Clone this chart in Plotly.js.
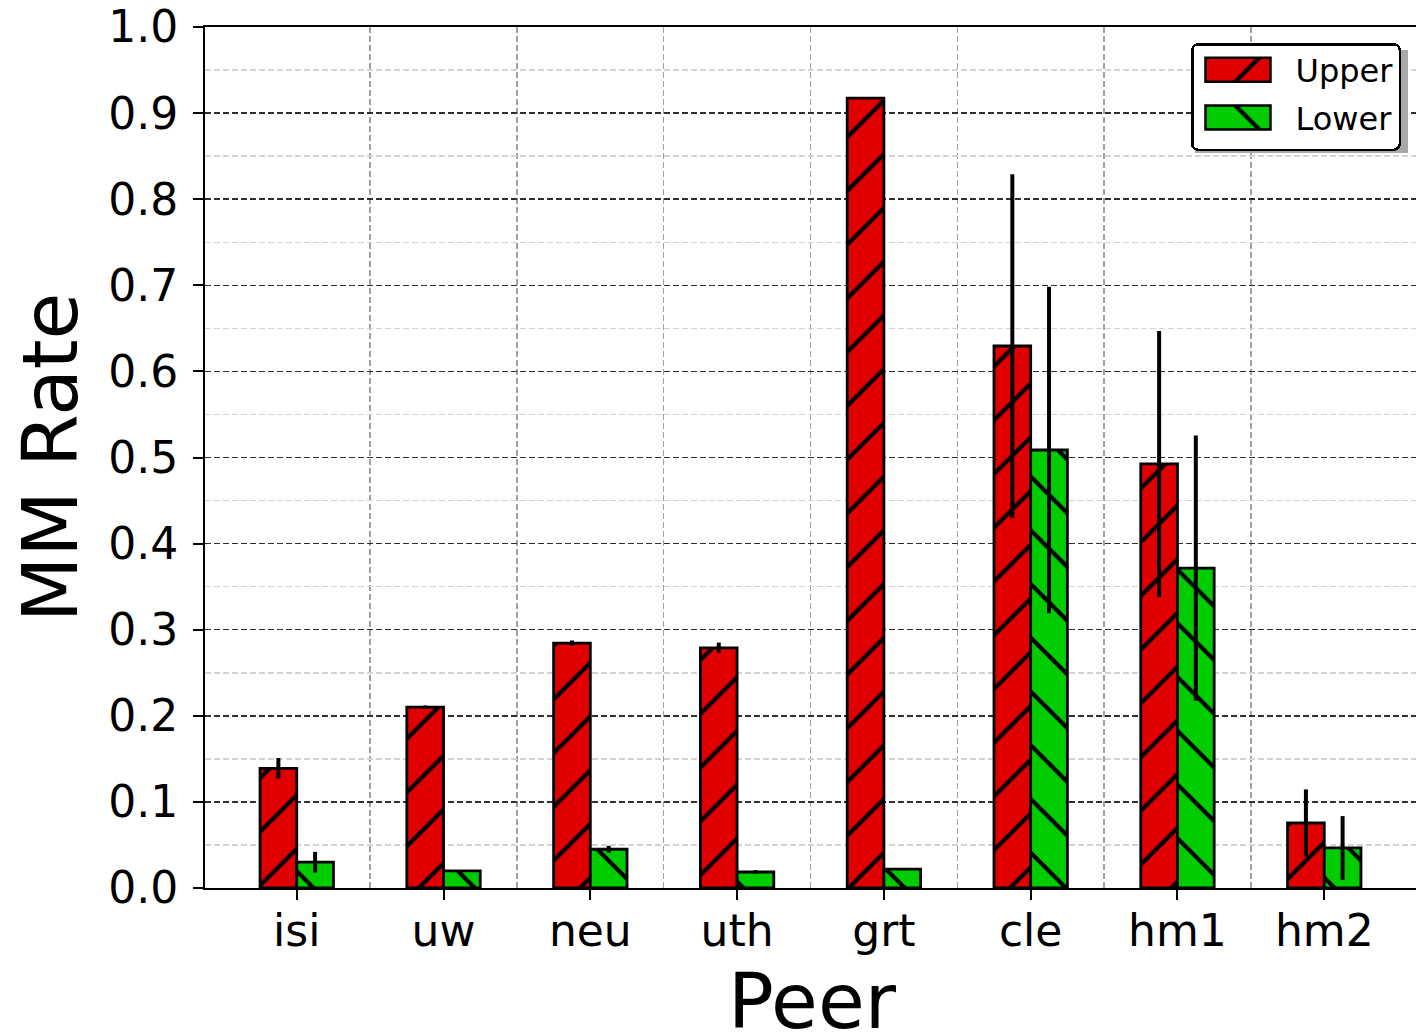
<!DOCTYPE html>
<html>
<head>
<meta charset="utf-8">
<script src="https://cdn.plot.ly/plotly-3.0.1.min.js"></script>
<style>
  html, body { margin: 0; padding: 0; background: #fff; }
  #chart { width: 1416px; height: 1033px; }
</style>
</head>
<body>
<div id="chart"></div>
<script>
// ---- data ----
var categories = ['isi', 'uw', 'neu', 'uth', 'grt', 'cle', 'hm1', 'hm2'];
var upperValues = [0.139, 0.210, 0.2845, 0.279, 0.9175, 0.6295, 0.4925, 0.0755];
var upperErrors = [0.012, 0.002, 0.003, 0.006, 0.0, 0.1995, 0.1545, 0.039];
var lowerValues = [0.030, 0.020, 0.045, 0.0186, 0.022, 0.5087, 0.3716, 0.0465];
var lowerErrors = [0.012, 0.0, 0.004, 0.002, 0.0, 0.1895, 0.154, 0.037];
var seriesNames = ['Upper', 'Lower'];
var yTickVals = [0, 0.1, 0.2, 0.3, 0.4, 0.5, 0.6, 0.7, 0.8, 0.9, 1.0];
var xTitle = 'Peer';
var yTitle = 'MM Rate';

var FONT = 'DejaVu Sans, sans-serif';
var xIdx = categories.map(function (_, i) { return i; });
var betweenIdx = categories.slice(0, -1).map(function (_, i) { return i + 0.5; });

function barTrace(name, vals, errs, color, shape) {
  return {
    type: 'bar',
    name: name,
    legendgroup: name,
    x: xIdx,
    y: vals,
    error_y: { type: 'data', array: errs, visible: true, color: '#000', thickness: 4, width: 0 },
    marker: {
      color: color,
      line: { color: '#000', width: 2.8 },
      pattern: { shape: shape, fgcolor: '#000', bgcolor: color, size: 38, solidity: 0.11, fillmode: 'replace' }
    }
  };
}

var data = [
  barTrace(seriesNames[0], upperValues, upperErrors, '#e00000', '/'),
  barTrace(seriesNames[1], lowerValues, lowerErrors, '#00cc00', '\\')
];

// plot-area geometry in pixels (for legend / title placement)
var PL = 205, PW = 1211, PB = 888, PH = 861;
function px2x(p) { return (p - PL) / PW; }
function px2y(p) { return (PB - p) / PH; }

var layout = {
  width: 1416,
  height: 1033,
  margin: { l: 205, r: 0, t: 27, b: 145, pad: 0 },
  paper_bgcolor: '#fff',
  plot_bgcolor: '#fff',
  font: { family: FONT, color: '#000' },
  barmode: 'group',
  bargap: 0.5,
  bargroupgap: 0,
  showlegend: true,
  legend: {
    x: px2x(1401), xanchor: 'right',
    y: px2y(43), yanchor: 'top',
    bgcolor: '#fff',
    bordercolor: '#000',
    borderwidth: 2.5,
    font: { family: FONT, size: 32, color: '#000' },
    itemwidth: 92,
    traceorder: 'grouped',
    tracegroupgap: 3
  },
  shapes: [{
    type: 'rect', xref: 'paper', yref: 'paper', layer: 'above',
    x0: px2x(1195), x1: px2x(1408), y0: px2y(153), y1: px2y(50),
    fillcolor: '#a8a8a8', line: { width: 0 }
  }],
  annotations: [{
    text: xTitle, showarrow: false,
    xref: 'paper', yref: 'paper',
    x: px2x(812), xanchor: 'center',
    y: px2y(955), yanchor: 'top',
    font: { family: FONT, size: 76, color: '#000' }
  }],
  xaxis: {
    type: 'linear',
    range: [-0.625, 7.625],
    tickmode: 'array',
    tickvals: xIdx,
    ticktext: categories,
    ticks: 'outside',
    ticklen: 10,
    tickwidth: 2,
    tickcolor: '#000',
    ticklabelstandoff: -7,
    tickfont: { family: FONT, size: 44, color: '#000' },
    showgrid: false,
    zeroline: false,
    showline: true,
    linecolor: '#000',
    linewidth: 2,
    mirror: true,
    minor: {
      tickmode: 'array',
      tickvals: betweenIdx,
      ticks: '',
      showgrid: true,
      gridcolor: '#a0a0a0',
      gridwidth: 1.5,
      griddash: '6px,3px'
    }
  },
  yaxis: {
    range: [0, 1.0],
    tickmode: 'array',
    tickvals: yTickVals,
    ticktext: yTickVals.map(function (v) { return v.toFixed(1); }),
    ticks: 'outside',
    ticklen: 10,
    tickwidth: 2,
    tickcolor: '#000',
    ticklabelstandoff: 6,
    tickfont: { family: FONT, size: 44, color: '#000' },
    showgrid: true,
    gridcolor: '#303030',
    gridwidth: 1.5,
    griddash: '6px,3px',
    zeroline: false,
    showline: true,
    linecolor: '#000',
    linewidth: 2,
    mirror: false,
    minor: {
      tickmode: 'linear',
      tick0: 0.05,
      dtick: 0.1,
      ticks: '',
      showgrid: true,
      gridcolor: '#d4d4d4',
      gridwidth: 1.5,
      griddash: '6px,3px'
    },
    title: { text: yTitle, font: { family: FONT, size: 76, color: '#000' }, standoff: 6 }
  }
};

Plotly.newPlot('chart', data, layout, { displayModeBar: false, staticPlot: true }).then(function (gd) {
  // enlarge legend swatches to match the reference (matplotlib-style patches)
  var barFills = [];
  gd.querySelectorAll('.barlayer .trace').forEach(function (t) {
    var p = t.querySelector('.point path');
    barFills.push(p ? (p.style.fill || p.getAttribute('fill')) : null);
  });
  gd.querySelectorAll('.legend .traces').forEach(function (tr, i) {
    var lp = tr.querySelector('.legendpoints');
    if (!lp) return;
    lp.setAttribute('transform', '');
    lp.querySelectorAll('g').forEach(function (g) { g.setAttribute('transform', ''); });
    lp.querySelectorAll('path').forEach(function (p) {
      p.setAttribute('transform', '');
      p.setAttribute('d', 'M12,-12H77V12H12Z');
      if (barFills[i]) p.style.fill = barFills[i];
      p.style.stroke = '#000';
      p.style.strokeWidth = '2.5px';
    });
  });
  var sb = gd.querySelector('.legend .scrollbox');
  if (sb) {
    var t = sb.getAttribute('transform') || '';
    sb.setAttribute('transform', t + ' translate(0,-3)');
  }
  var bg = gd.querySelector('.legend .bg');
  if (bg) { bg.setAttribute('rx', 6); bg.setAttribute('ry', 6); }
});
</script>
</body>
</html>
